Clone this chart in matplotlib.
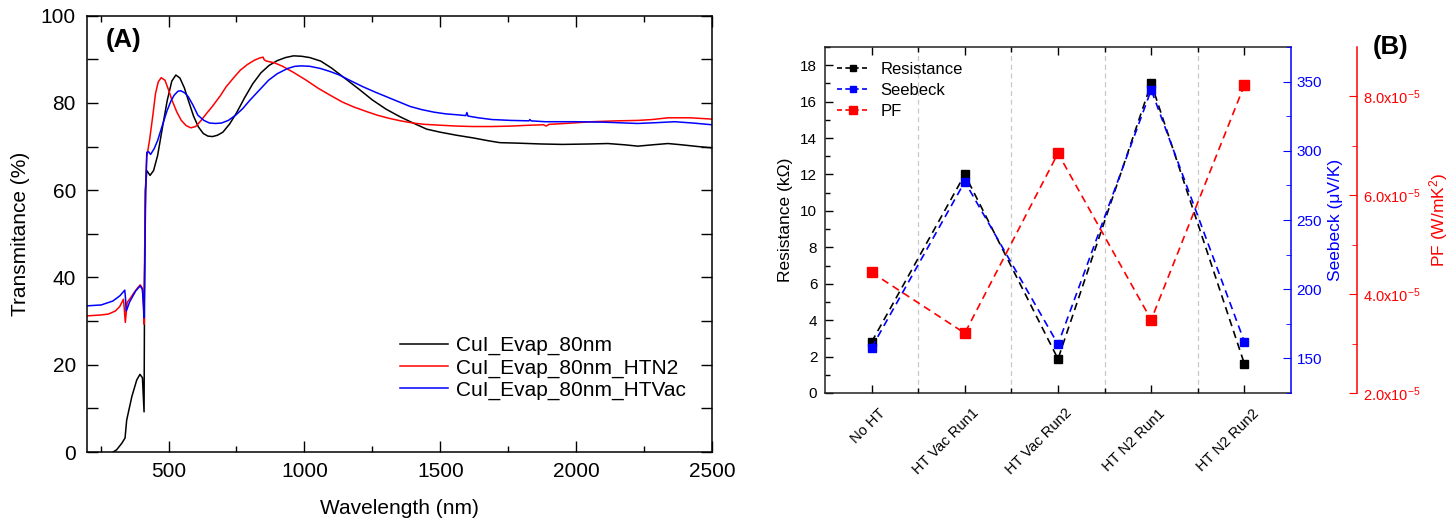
import matplotlib
matplotlib.use('Agg')
import matplotlib.pyplot as plt
from matplotlib.ticker import MultipleLocator, FixedLocator, FuncFormatter
from matplotlib.lines import Line2D
import matplotlib.transforms as mtrans

plt.rcParams['font.family'] = ['Liberation Sans', 'DejaVu Sans']
plt.rcParams['mathtext.fontset'] = 'custom'
plt.rcParams['mathtext.rm'] = 'Liberation Sans'
plt.rcParams['mathtext.it'] = 'Liberation Sans:italic'
plt.rcParams['mathtext.bf'] = 'Liberation Sans:bold'

# ---------------- Panel A data ----------------
black_wl = [285, 296, 309, 328, 340, 346, 365, 383, 395, 404,
            410, 412, 415, 420, 432, 445, 460, 478, 495, 512,
            527, 542, 558, 575, 592, 610, 628, 645, 662, 680,
            700, 725, 750, 780, 810, 840, 870, 900, 930, 960,
            990, 1020, 1060, 1100, 1150, 1200, 1250, 1300, 1350, 1400,
            1450, 1500, 1560, 1620, 1680, 1720, 1780, 1870, 1950, 2050,
            2117, 2180, 2227, 2280, 2338, 2390, 2450, 2500]
black_T = [-1.0, 0.0, 0.5, 2.0, 3.2, 7.3, 12.7, 16.5, 17.8, 17.0,
           9.2, 40.0, 60.0, 64.5, 63.4, 64.5, 68.0, 74.5, 80.5, 85.0,
           86.4, 85.7, 83.5, 80.2, 77.0, 74.5, 73.0, 72.4, 72.3, 72.6,
           73.3, 75.2, 77.7, 81.2, 84.4, 86.9, 88.6, 89.7, 90.4, 90.8,
           90.7, 90.4, 89.6, 88.0, 85.6, 83.2, 80.7, 78.6, 76.9, 75.4,
           74.0, 73.3, 72.6, 72.0, 71.3, 70.9, 70.8, 70.6, 70.5, 70.6,
           70.7, 70.4, 70.1, 70.4, 70.7, 70.4, 70.0, 69.7]

red_wl = [200, 250, 278, 304, 320, 334, 337, 341, 348, 360,
          374, 386, 396, 404, 408, 410, 412, 415, 420, 430,
          442, 452, 462, 473, 487, 500, 513, 530, 547, 565,
          582, 600, 620, 640, 660, 690, 712, 740, 764, 790,
          816, 835, 848, 852, 860, 890, 920, 960, 1007, 1050,
          1094, 1140, 1181, 1230, 1268, 1310, 1354, 1400, 1441, 1500,
          1560, 1620, 1690, 1760, 1830, 1880, 1890, 1900, 1960, 2057,
          2150, 2227, 2280, 2338, 2420, 2500]
red_T = [31.2, 31.4, 31.6, 32.3, 33.3, 35.0, 33.0, 29.7, 34.3, 35.3,
         36.6, 37.6, 38.3, 37.5, 33.0, 29.3, 45.0, 60.0, 67.6, 71.4,
         77.0, 82.1, 84.8, 85.8, 85.2, 83.0, 80.6, 78.0, 76.0, 74.8,
         74.3, 74.6, 76.0, 77.6, 79.1, 81.6, 83.7, 85.8, 87.5, 88.8,
         89.8, 90.3, 90.5, 89.9, 89.6, 89.2, 88.4, 87.0, 85.2, 83.4,
         81.8, 80.2, 79.1, 78.0, 77.2, 76.5, 75.9, 75.4, 75.1, 74.9,
         74.7, 74.6, 74.6, 74.7, 74.9, 75.0, 74.7, 75.1, 75.3, 75.7,
         75.9, 76.0, 76.2, 76.6, 76.6, 76.3]

blue_wl = [200, 252, 295, 321, 339, 342, 344, 350, 356, 379,
           396, 404, 408, 410, 413, 416, 420, 427, 434, 447,
           460, 478, 495, 510, 521, 535, 545, 560, 573, 590,
           608, 630, 651, 673, 695, 720, 747, 773, 799, 835,
           868, 900, 938, 965, 990, 1020, 1059, 1095, 1129, 1170,
           1216, 1260, 1303, 1350, 1389, 1430, 1476, 1520, 1560, 1594,
           1598, 1602, 1640, 1690, 1760, 1826, 1830, 1834, 1886, 1996,
           2100, 2227, 2300, 2362, 2430, 2500]
blue_T = [33.5, 33.7, 34.6, 35.8, 37.1, 35.0, 32.3, 33.2, 34.3, 36.9,
          38.1, 37.2, 33.5, 30.8, 45.0, 60.0, 68.7, 68.8, 68.2, 69.5,
          71.4, 75.0, 78.3, 80.6, 81.8, 82.7, 82.8, 82.3, 81.4, 79.5,
          77.2, 76.0, 75.4, 75.3, 75.4, 76.0, 77.2, 78.7, 80.6, 83.0,
          85.2, 86.7, 87.9, 88.4, 88.5, 88.4, 87.9, 87.2, 86.4, 85.1,
          83.7, 82.5, 81.4, 80.2, 79.2, 78.5, 77.9, 77.5, 77.3, 77.1,
          77.8, 77.0, 76.6, 76.2, 76.0, 75.9, 76.2, 75.9, 75.7, 75.7,
          75.6, 75.3, 75.5, 75.7, 75.4, 75.0]

labels_A = ['CuI_Evap_80nm', 'CuI_Evap_80nm_HTN2', 'CuI_Evap_80nm_HTVac']

# ---------------- Panel B data ----------------
categories = ['No HT', 'HT Vac Run1', 'HT Vac Run2', 'HT N2 Run1', 'HT N2 Run2']
resistance = [2.8, 12.0, 1.87, 17.0, 1.6]
seebeck = [157.7, 277.7, 160.2, 344.0, 162.0]
pf = [4.44e-5, 3.21e-5, 6.85e-5, 3.48e-5, 8.23e-5]
pf_ticks = [2.0e-5, 4.0e-5, 6.0e-5, 8.0e-5]

W, H = 1456, 524
fig = plt.figure(figsize=(W / 100, H / 100), dpi=100)


def fx(px):
    return px / W


def fy(py):
    return 1 - py / H


# ================= Panel A =================
axA = fig.add_axes([fx(87), fy(452), (712 - 87) / W, (452 - 15.7) / H])
axA.plot(black_wl, black_T, color='black', lw=1.1, label=labels_A[0])
axA.plot(red_wl, red_T, color='#ff0000', lw=1.1, label=labels_A[1])
axA.plot(blue_wl, blue_T, color='#0000ff', lw=1.1, label=labels_A[2])
axA.set_xlim(200, 2500)
axA.set_ylim(0, 100)
axA.xaxis.set_major_locator(MultipleLocator(500))
axA.xaxis.set_minor_locator(MultipleLocator(250))
axA.yaxis.set_major_locator(MultipleLocator(20))
axA.yaxis.set_minor_locator(MultipleLocator(10))
axA.tick_params(which='both', direction='in', top=True, right=True, width=1.0, labelsize=15)
axA.tick_params(axis='x', which='major', length=8, pad=7.5)
axA.tick_params(axis='x', which='minor', length=4.5)
axA.tick_params(axis='y', which='major', length=8, pad=8)
axA.tick_params(axis='y', which='minor', length=8)
for s in axA.spines.values():
    s.set_linewidth(1.1)
axA.set_xlabel('Wavelength (nm)', fontsize=15, labelpad=13)
axA.set_ylabel('Transmitance (%)', fontsize=15, labelpad=8)
axA.text(fx(123.5), fy(40), '(A)', transform=fig.transFigure, fontsize=18.5,
         fontweight='bold', ha='center', va='center')
axA.legend(loc='upper left', bbox_to_anchor=(fx(400), fy(336)), bbox_transform=fig.transFigure,
           frameon=False, fontsize=15, handlelength=2.3, handletextpad=0.4, labelspacing=0.15,
           borderpad=0, borderaxespad=0)

# ================= Panel B =================
x = list(range(len(categories)))
blue_c = '#0000ff'
red_c = '#ff0000'

ax = fig.add_axes([fx(825), fy(393), (1291 - 825) / W, (393 - 47) / H])
ax2 = ax.twinx()
ax3 = ax.twinx()

for xv in [0.5, 1.5, 2.5, 3.5]:
    ax.axvline(xv, color='#c8c8c8', lw=0.9, ls=(0, (4, 3)), zorder=0)

dash = (0, (4.5, 3))
ax.plot(x, resistance, color='black', lw=1.2, ls=dash, marker='s', ms=5.5,
        mfc='black', mec='black')
ax2.plot(x, seebeck, color=blue_c, lw=1.2, ls=dash, marker='s', ms=5.5, mfc=blue_c, mec=blue_c)
ax3.plot(x, pf, color=red_c, lw=1.2, ls=dash, marker='s', ms=6.5, mfc=red_c, mec=red_c)

ax.set_xlim(-0.5, 4.5)
ax.set_ylim(0, 19)
ax2.set_ylim(125, 375)
ax3.set_ylim(2e-5, 9e-5)

ax.set_xticks(x)
ax.set_xticklabels(categories)
ax.xaxis.set_minor_locator(FixedLocator([0.5, 1.5, 2.5, 3.5]))
ax.yaxis.set_major_locator(MultipleLocator(2))
ax.yaxis.set_minor_locator(MultipleLocator(1))
ax.tick_params(which='both', direction='in', top=True, right=False, width=1.0, labelsize=11)
ax.tick_params(which='major', length=6)
ax.tick_params(which='minor', length=3.5)
ax.tick_params(axis='x', pad=9.5, labelsize=10.5)
ax.tick_params(axis='y', pad=5.5)
for lab in ax.get_xticklabels():
    lab.set_rotation(45)
    lab.set_ha('right')
    lab.set_va('top')
    lab.set_rotation_mode('anchor')
    lab.set_transform(lab.get_transform() + mtrans.ScaledTranslation(0.07, 0, fig.dpi_scale_trans))
ax.spines['right'].set_visible(False)
for s in ['left', 'bottom', 'top']:
    ax.spines[s].set_linewidth(1.1)
    ax.spines[s].set_color('#222222')
ax.set_ylabel('Resistance (k\u03a9)', fontsize=12.5, labelpad=5)

# Seebeck axis
for s in ['left', 'bottom', 'top']:
    ax2.spines[s].set_visible(False)
ax2.spines['right'].set_color(blue_c)
ax2.spines['right'].set_linewidth(1.1)
ax2.yaxis.set_major_locator(MultipleLocator(50))
ax2.yaxis.set_minor_locator(MultipleLocator(25))
ax2.set_yticks([150, 200, 250, 300, 350])
ax2.tick_params(axis='y', which='both', direction='in', colors=blue_c, labelsize=11, pad=4)
ax2.tick_params(axis='y', which='major', length=6)
ax2.tick_params(axis='y', which='minor', length=3.5)
ax2.set_ylabel('Seebeck (\u03bcV/K)', fontsize=12.5, color=blue_c, labelpad=4)

# PF axis
for s in ['left', 'bottom', 'top']:
    ax3.spines[s].set_visible(False)
ax3.spines['right'].set_position(('outward', 47.5))
ax3.spines['right'].set_color(red_c)
ax3.spines['right'].set_linewidth(1.1)
ax3.yaxis.set_major_locator(FixedLocator(pf_ticks))
ax3.yaxis.set_minor_locator(FixedLocator([3e-5, 5e-5, 7e-5]))
ax3.yaxis.set_major_formatter(FuncFormatter(lambda v, p: '%.1fx10$^{-5}$' % (v * 1e5)))
ax3.tick_params(axis='y', which='both', direction='in', colors=red_c, labelsize=10.5, pad=4)
ax3.tick_params(axis='y', which='major', length=6)
ax3.tick_params(axis='y', which='minor', length=3.5)
ax3.set_ylabel('PF (W/mK$^2$)', fontsize=12.5, color=red_c, labelpad=5)

handles = [
    Line2D([], [], color='black', lw=1.2, ls=(0, (3, 2)), marker='s', ms=5, mfc='black', mec='black'),
    Line2D([], [], color=blue_c, lw=1.2, ls=(0, (3, 2)), marker='s', ms=5, mfc=blue_c, mec=blue_c),
    Line2D([], [], color=red_c, lw=1.2, ls=(0, (3, 2)), marker='s', ms=6, mfc=red_c, mec=red_c),
]
ax3.legend(handles, ['Resistance', 'Seebeck', 'PF'], loc='upper left',
           bbox_to_anchor=(fx(837), fy(62)), bbox_transform=fig.transFigure, frameon=False,
           fontsize=12, handlelength=1.9, handletextpad=0.7, labelspacing=0.36,
           borderpad=0, borderaxespad=0)

fig.text(fx(1391), fy(47), '(B)', fontsize=18.5, fontweight='bold', ha='center', va='center')

fig.savefig('out.png', dpi=100)
